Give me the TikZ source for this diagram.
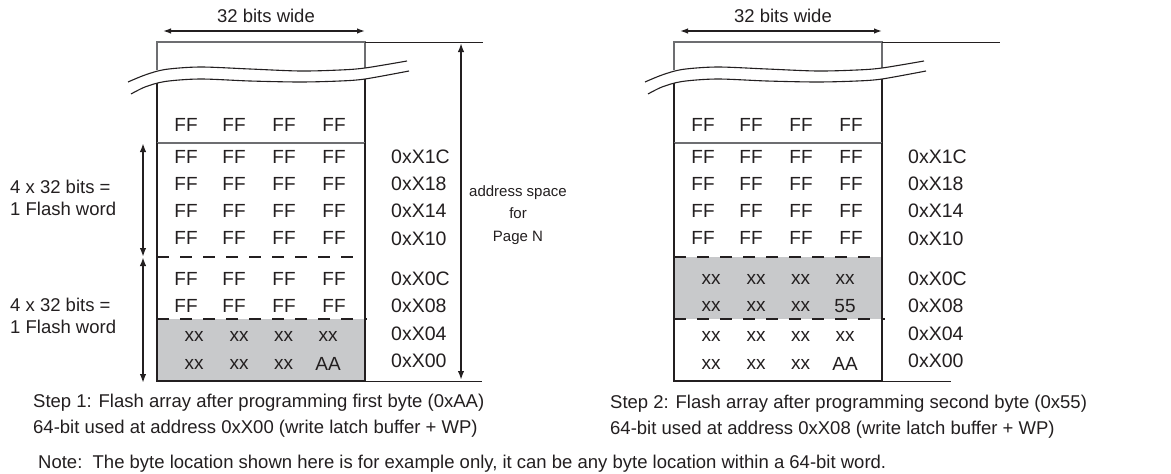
\documentclass[tikz,border=0pt]{standalone}
\usepackage{fontspec}
\setmainfont{Liberation Sans}
\usetikzlibrary{arrows.meta}
\definecolor{ink}{HTML}{231F20}
\definecolor{shadegray}{RGB}{200,201,203}
\definecolor{thingray}{HTML}{6D6E71}
\tikzset{
  cell/.style={inner sep=0pt, text=ink, font=\fontsize{19}{22}\selectfont},
  addr/.style={cell, anchor=west, font=\fontsize{19.5}{22}\selectfont},
  caption/.style={inner sep=0pt, text=ink, anchor=west, font=\fontsize{18.5}{22}\selectfont},
  sidetext/.style={inner sep=0pt, text=ink, anchor=west, align=left, font=\fontsize{18.5}{22}\selectfont},
  pagetext/.style={inner sep=0pt, text=ink, align=center, font=\fontsize{15}{22.5}\selectfont},
  dimarrow/.style={draw=ink, line width=1.4pt, {Latex[length=8pt,width=5.5pt]}-{Latex[length=8pt,width=5.5pt]}},
  bigarrow/.style={draw=ink, line width=2.2pt, {Latex[length=9pt,width=6.5pt]}-{Latex[length=9pt,width=6.5pt]}},
  thinbox/.style={draw=thingray, line width=1.1pt},
  extline/.style={draw=ink, line width=1pt},
  wallline/.style={draw=ink, line width=2.4pt},
  bodyline/.style={draw=ink, line width=1.6pt},
  dashsep/.style={draw=ink, line width=1.5pt, dash pattern=on 12pt off 11pt},
  breakline/.style={draw=ink, line width=1.1pt},
}
\newcommand\FlashFrame[1]{%
  % top part of the array above the break
  \draw[thinbox] (157,70) -- (157,42) -- (365,42) -- (365,68);
  \draw[breakline] plot[smooth] coordinates {(128,82) (145,75) (165,69.5) (200,67) (250,69) (300,71) (340,70) (365,68) (407,61)};
  \draw[breakline] plot[smooth] coordinates {(131,94) (145,87) (165,81.5) (200,79) (250,81) (300,82) (340,81) (365,79) (409,71)};
  \draw[extline] (365,42) -- (483,42);
  \draw[extline] (365,381) -- (#1,381);
  \draw[wallline] (157,83) -- (157,143);
  \draw[wallline] (365,79) -- (365,143);
  \draw[thinbox] (157,143) -- (365,143);
  \draw[bodyline] (157,143) -- (157,381) -- (365,381) -- (365,143);
  \coordinate (wl) at (163,31);
  \coordinate (wr) at (365,31);
  \draw[dimarrow] (wl) -- (wr);
  \node[caption, anchor=center] (width) at (266,16) {32 bits wide};
  \foreach \c/\x in {1/186,2/234,3/284,4/334} \node[cell] (r0c\c) at (\x,125) {FF};
  \foreach \n/\t/\y in {1/0xX1C/157,2/0xX18/184,3/0xX14/211,4/0xX10/239,5/0xX0C/279,6/0xX08/306,7/0xX04/334,8/0xX00/361}
    \node[addr] (a\n) at (391,\y) {\t};
}
\begin{document}
\begin{tikzpicture}[x=1pt,y=-1pt]
\useasboundingbox (0,0) rectangle (1171,474);
\fill[white] (0,0) rectangle (1171,474);

% ---------------- Step 1 (left) ----------------
\begin{scope}[name prefix=L-]
  \fill[shadegray] (157,319) rectangle (365,381);
  \FlashFrame{482}
  \draw[dashsep] (157,257) -- (365,257);
  \draw[dashsep] (157,319) -- (367,319);
  \foreach \r/\y in {1/157,2/184,3/211,4/238,5/279,6/306}
    \foreach \c/\x in {1/186,2/234,3/284,4/334}
      \node[cell] (r\r c\c) at (\x,\y) {FF};
  \foreach \c/\x in {1/194,2/239,3/283.5,4/328}
    \node[cell] (r7c\c) at (\x,336) {xx};
  \foreach \c/\x/\t in {1/194/xx,2/239/xx,3/283.5/xx,4/328/AA}
    \node[cell] (r8c\c) at (\x,364) {\t};
  % address space arrow
  \coordinate (vtop) at (461,43);
  \coordinate (vbot) at (461,380);
  \draw[bigarrow] (vtop) -- (vbot);
  \node[pagetext] (page) at (518,215) {address space\\for\\Page N};
  % flash word arrows
  \coordinate (fa) at (143,143);
  \coordinate (fb) at (143,257);
  \coordinate (fc) at (143,383);
  \draw[bigarrow, line width=2pt] (fa) -- (fb);
  \draw[bigarrow, line width=2pt] (fb) -- (fc);
  \node[sidetext] (w1) at (10,198) {4 x 32 bits =\\1 Flash word};
  \node[sidetext] (w2) at (10,316) {4 x 32 bits =\\1 Flash word};
  \node[caption] (s1) at (33,403) {Step 1: Flash array after programming first byte (0xAA)};
  \node[caption] (s2) at (33,429) {64-bit used at address 0xX00 (write latch buffer + WP)};
\end{scope}

% ---------------- Step 2 (right) ----------------
\begin{scope}[shift={(517,0)}, name prefix=R-]
  \fill[shadegray] (157,257) rectangle (365,319);
  \FlashFrame{434}
  \draw[dashsep] (157,257) -- (365,257);
  \draw[dashsep] (157,319) -- (368,319);
  \foreach \r/\y in {1/157,2/184,3/211,4/238}
    \foreach \c/\x in {1/186,2/234,3/284,4/334}
      \node[cell] (r\r c\c) at (\x,\y) {FF};
  \foreach \r/\y/\t in {5/279/xx,6/306/55,7/336/xx,8/364/AA}
    {\foreach \c/\x in {1/194,2/239,3/283.5}
      \node[cell] (r\r c\c) at (\x,\y) {xx};
     \node[cell] (r\r c4) at (328,\y) {\t};}
  \node[caption] (s1) at (93,404) {Step 2: Flash array after programming second byte (0x55)};
  \node[caption] (s2) at (93,430) {64-bit used at address 0xX08 (write latch buffer + WP)};
\end{scope}

\node[caption] (note) at (38,464) {Note:\ \ The byte location shown here is for example only, it can be any byte location within a 64-bit word.};
\end{tikzpicture}
\end{document}
